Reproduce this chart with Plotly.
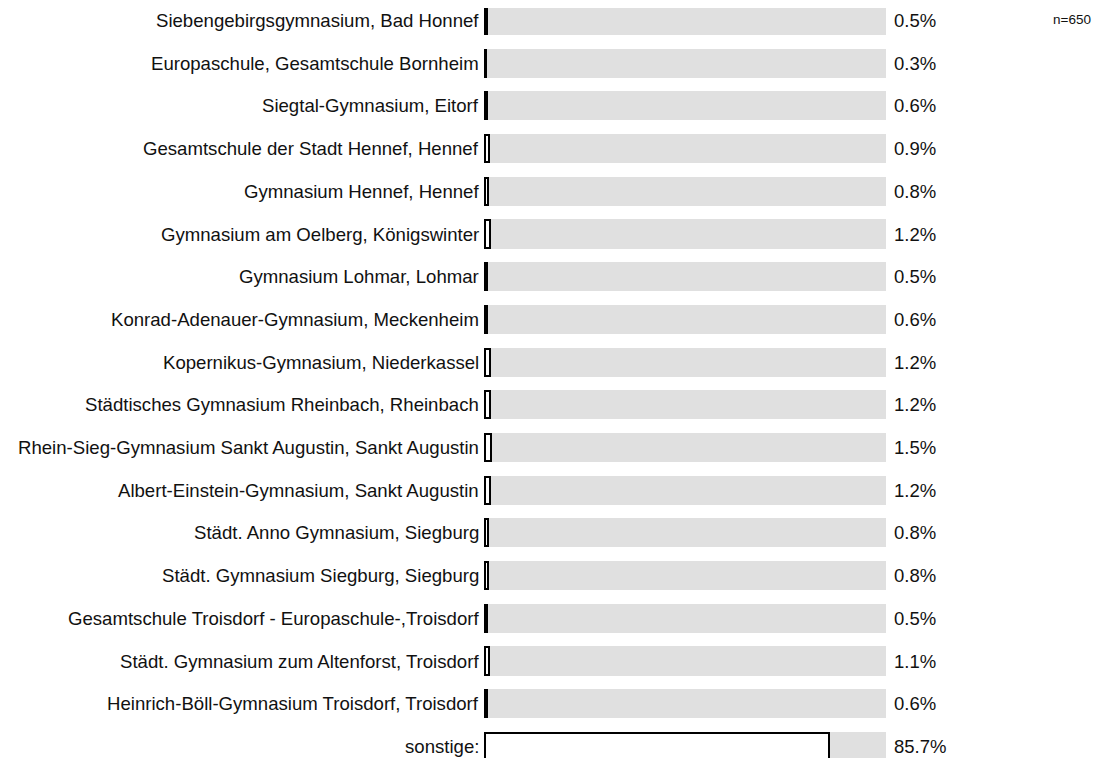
import plotly.graph_objects as go

schools = [
    "Siebengebirgsgymnasium, Bad Honnef",
    "Europaschule, Gesamtschule Bornheim",
    "Siegtal-Gymnasium, Eitorf",
    "Gesamtschule der Stadt Hennef, Hennef",
    "Gymnasium Hennef, Hennef",
    "Gymnasium am Oelberg, Königswinter",
    "Gymnasium Lohmar, Lohmar",
    "Konrad-Adenauer-Gymnasium, Meckenheim",
    "Kopernikus-Gymnasium, Niederkassel",
    "Städtisches Gymnasium Rheinbach, Rheinbach",
    "Rhein-Sieg-Gymnasium Sankt Augustin, Sankt Augustin",
    "Albert-Einstein-Gymnasium, Sankt Augustin",
    "Städt. Anno Gymnasium, Siegburg",
    "Städt. Gymnasium Siegburg, Siegburg",
    "Gesamtschule Troisdorf - Europaschule-,Troisdorf",
    "Städt. Gymnasium zum Altenforst, Troisdorf",
    "Heinrich-Böll-Gymnasium Troisdorf, Troisdorf",
    "sonstige:",
]
percent = [0.5, 0.3, 0.6, 0.9, 0.8, 1.2, 0.5, 0.6, 1.2, 1.2, 1.5, 1.2, 0.8, 0.8, 0.5, 1.1, 0.6, 85.7]
n_label = "n=650"

idx = list(range(len(schools)))
FONT = "Liberation Sans, Arial, sans-serif"
W, H = 1119, 758
OFF = 8  # default page body margin

fig = go.Figure()
fig.add_trace(go.Bar(
    y=idx, x=[100] * len(idx), orientation="h", width=0.68,
    marker=dict(color="#e0e0e0", line=dict(width=0)),
    hoverinfo="skip", showlegend=False,
))
fig.add_trace(go.Bar(
    y=idx, x=percent, orientation="h", width=0.635,
    marker=dict(color="white", line=dict(color="black", width=2)),
    showlegend=False,
))

for i, (s, p) in enumerate(zip(schools, percent)):
    fig.add_annotation(x=-1.0, y=i, text=s, showarrow=False, xanchor="right",
                       yanchor="middle", font=dict(size=18.6, color="#111", family=FONT))
    fig.add_annotation(x=101.6, y=i, text=f"{p:.1f}%", showarrow=False, xanchor="left",
                       yanchor="middle", font=dict(size=18.5, color="#111", family=FONT))

fig.add_annotation(x=(1071.5 - OFF) / W, y=1 - (19 - OFF) / H, xref="paper", yref="paper",
                   text=n_label, showarrow=False, xanchor="center", yanchor="middle",
                   font=dict(size=13.5, color="#111", family=FONT))

px_per = 401 / 100
x0_px, y0_px, pitch = 485, 20.5, 42.7
fig.update_layout(
    width=W, height=H,
    margin=dict(l=0, r=0, t=0, b=0),
    paper_bgcolor="white", plot_bgcolor="white",
    barmode="overlay", bargap=0,
    xaxis=dict(range=[(OFF - x0_px) / px_per, (W + OFF - x0_px) / px_per],
               visible=False, fixedrange=True),
    yaxis=dict(range=[(H + OFF - y0_px) / pitch, (OFF - y0_px) / pitch],
               visible=False, fixedrange=True),
)
fig.write_html("out.html")
